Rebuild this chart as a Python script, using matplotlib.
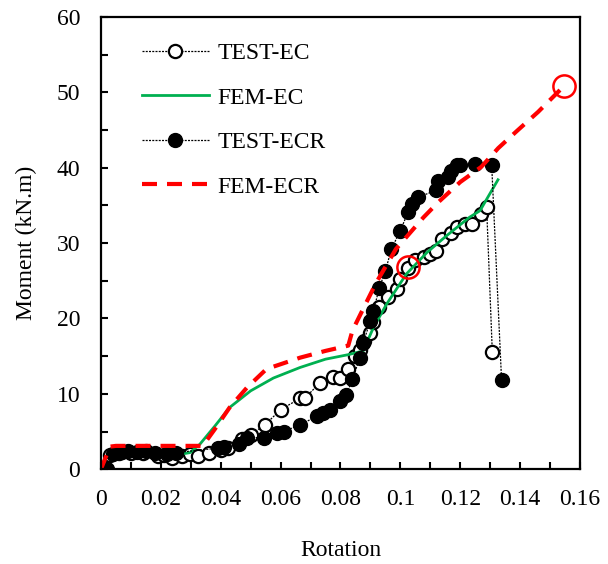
"""Moment-rotation curves: test vs FEM, EC and ECR connections."""

import matplotlib

matplotlib.use("Agg")
import matplotlib.pyplot as plt
from matplotlib.ticker import MultipleLocator

# --- data ---
test_ec_rot = [0.003, 0.006, 0.010, 0.014, 0.019, 0.021, 0.0236, 0.027, 0.0297, 0.0325,
               0.036, 0.040, 0.0425, 0.047, 0.050, 0.0548, 0.060, 0.0665, 0.068, 0.073,
               0.0776, 0.080, 0.0826, 0.085, 0.0865, 0.088, 0.090, 0.091, 0.093, 0.096,
               0.099, 0.100, 0.1025, 0.105, 0.108, 0.110, 0.112, 0.114, 0.117, 0.119,
               0.1216, 0.124, 0.127, 0.1288, 0.1307]
test_ec_mom = [1.9, 2.1, 2.2, 2.1, 1.8, 1.9, 1.5, 1.7, 2.0, 1.8,
               2.2, 2.6, 2.8, 4.0, 4.6, 5.9, 7.9, 9.4, 9.4, 11.4,
               12.2, 12.1, 13.3, 15.0, 15.8, 17.0, 18.1, 19.5, 21.5, 22.8,
               23.9, 25.2, 26.7, 27.7, 28.1, 28.5, 29.0, 30.5, 31.3, 32.1,
               32.5, 32.5, 33.9, 34.8, 15.6]

fem_ec_rot = [0.0, 0.0017, 0.003, 0.0063, 0.0125, 0.016, 0.020, 0.025, 0.0297, 0.033,
              0.038, 0.043, 0.050, 0.0576, 0.0665, 0.075, 0.0826, 0.0876, 0.091, 0.0954,
              0.102, 0.109, 0.1155, 0.123, 0.1266, 0.1326]
fem_ec_mom = [0.0, 1.7, 2.0, 2.0, 2.0, 2.0, 1.9, 1.9, 2.2, 3.3,
              5.7, 8.2, 10.4, 12.1, 13.5, 14.6, 15.2, 15.7, 18.8, 21.9,
              25.9, 28.8, 31.0, 33.4, 34.3, 38.4]

test_ecr_rot = [0.002, 0.004, 0.007, 0.009, 0.012, 0.015, 0.018, 0.022, 0.025, 0.039,
                0.041, 0.046, 0.0487, 0.0545, 0.0587, 0.061, 0.0665, 0.072, 0.0743, 0.0765,
                0.080, 0.082, 0.084, 0.0865, 0.0876, 0.090, 0.091, 0.093, 0.095, 0.097,
                0.0999, 0.1026, 0.1038, 0.106, 0.112, 0.1125, 0.116, 0.117, 0.119, 0.120,
                0.125, 0.1305, 0.1338]
test_ecr_mom = [0.0, 2.0, 2.3, 2.4, 2.3, 2.4, 2.2, 2.0, 2.2, 2.8,
                3.0, 3.4, 4.2, 4.2, 4.8, 5.0, 5.9, 7.0, 7.5, 7.9,
                9.0, 9.9, 12.0, 14.8, 16.8, 19.7, 21.0, 24.1, 26.3, 29.2,
                31.6, 34.1, 35.2, 36.1, 37.0, 38.3, 38.7, 39.6, 40.3, 40.3,
                40.5, 40.3, 11.8]

fem_ecr_rot = [0.0, 0.003, 0.005, 0.034, 0.038, 0.043, 0.0487, 0.0553, 0.0665, 0.075,
               0.0826, 0.084, 0.0876, 0.092, 0.0985, 0.1077, 0.1126, 0.120, 0.127, 0.1327,
               0.139, 0.146, 0.1533]
fem_ecr_mom = [0.0, 3.0, 3.1, 3.1, 5.3, 8.2, 10.8, 13.3, 14.8, 15.7,
               16.4, 18.4, 21.3, 24.8, 29.2, 33.4, 35.4, 38.1, 40.1, 42.6,
               44.9, 47.4, 50.3]

# highlighted points (red rings)
ring_rot = [0.1025, 0.1547]
ring_mom = [26.8, 50.8]

plt.rcParams["font.family"] = ["Liberation Serif", "DejaVu Serif"]
plt.rcParams["font.size"] = 17

fig, ax = plt.subplots(figsize=(6.08, 5.64), dpi=100)
fig.subplots_adjust(left=0.166, right=0.954, bottom=0.168, top=0.970)

dotted = (0, (1.6, 1.0))
ax.plot(test_ec_rot, test_ec_mom, color="black", lw=0.9, ls=dotted, marker="o",
        ms=9.5, mfc="white", mec="black", mew=1.6, label="TEST-EC")
ax.plot(fem_ec_rot, fem_ec_mom, color="#00b050", lw=2.0, label="FEM-EC")
ax.plot(test_ecr_rot, test_ecr_mom, color="black", lw=0.9, ls=dotted, marker="o",
        ms=10, mfc="black", mec="black", label="TEST-ECR")
ax.plot(fem_ecr_rot, fem_ecr_mom, color="red", lw=3.0, ls=(0, (3.6, 2.4)), label="FEM-ECR")
ax.plot(ring_rot, ring_mom, ls="none", marker="o", ms=16, mfc="none", mec="red", mew=1.8)

ax.set_xlim(0, 0.16)
ax.set_ylim(0, 60)
ax.xaxis.set_major_locator(MultipleLocator(0.02))
ax.xaxis.set_minor_locator(MultipleLocator(0.01))
ax.yaxis.set_major_locator(MultipleLocator(10))
ax.yaxis.set_minor_locator(MultipleLocator(5))
ax.xaxis.set_major_formatter(lambda v, p: "0" if v == 0 else f"{v:g}")
ax.tick_params(which="both", direction="in", length=5, width=1.5, top=False, right=False)
ax.tick_params(axis="x", which="major", pad=14)
ax.tick_params(axis="y", which="major", pad=15)
for s in ax.spines.values():
    s.set_linewidth(1.6)

ax.set_xlabel("Rotation", labelpad=22)
ax.set_ylabel("Moment (kN.m)", labelpad=14)

ax.legend(loc="upper left", bbox_to_anchor=(0.085, 0.943), frameon=False, numpoints=1,
          handlelength=2.85, handletextpad=0.35, labelspacing=0.97, borderpad=0,
          borderaxespad=0)

fig.savefig("out.png", dpi=100)
